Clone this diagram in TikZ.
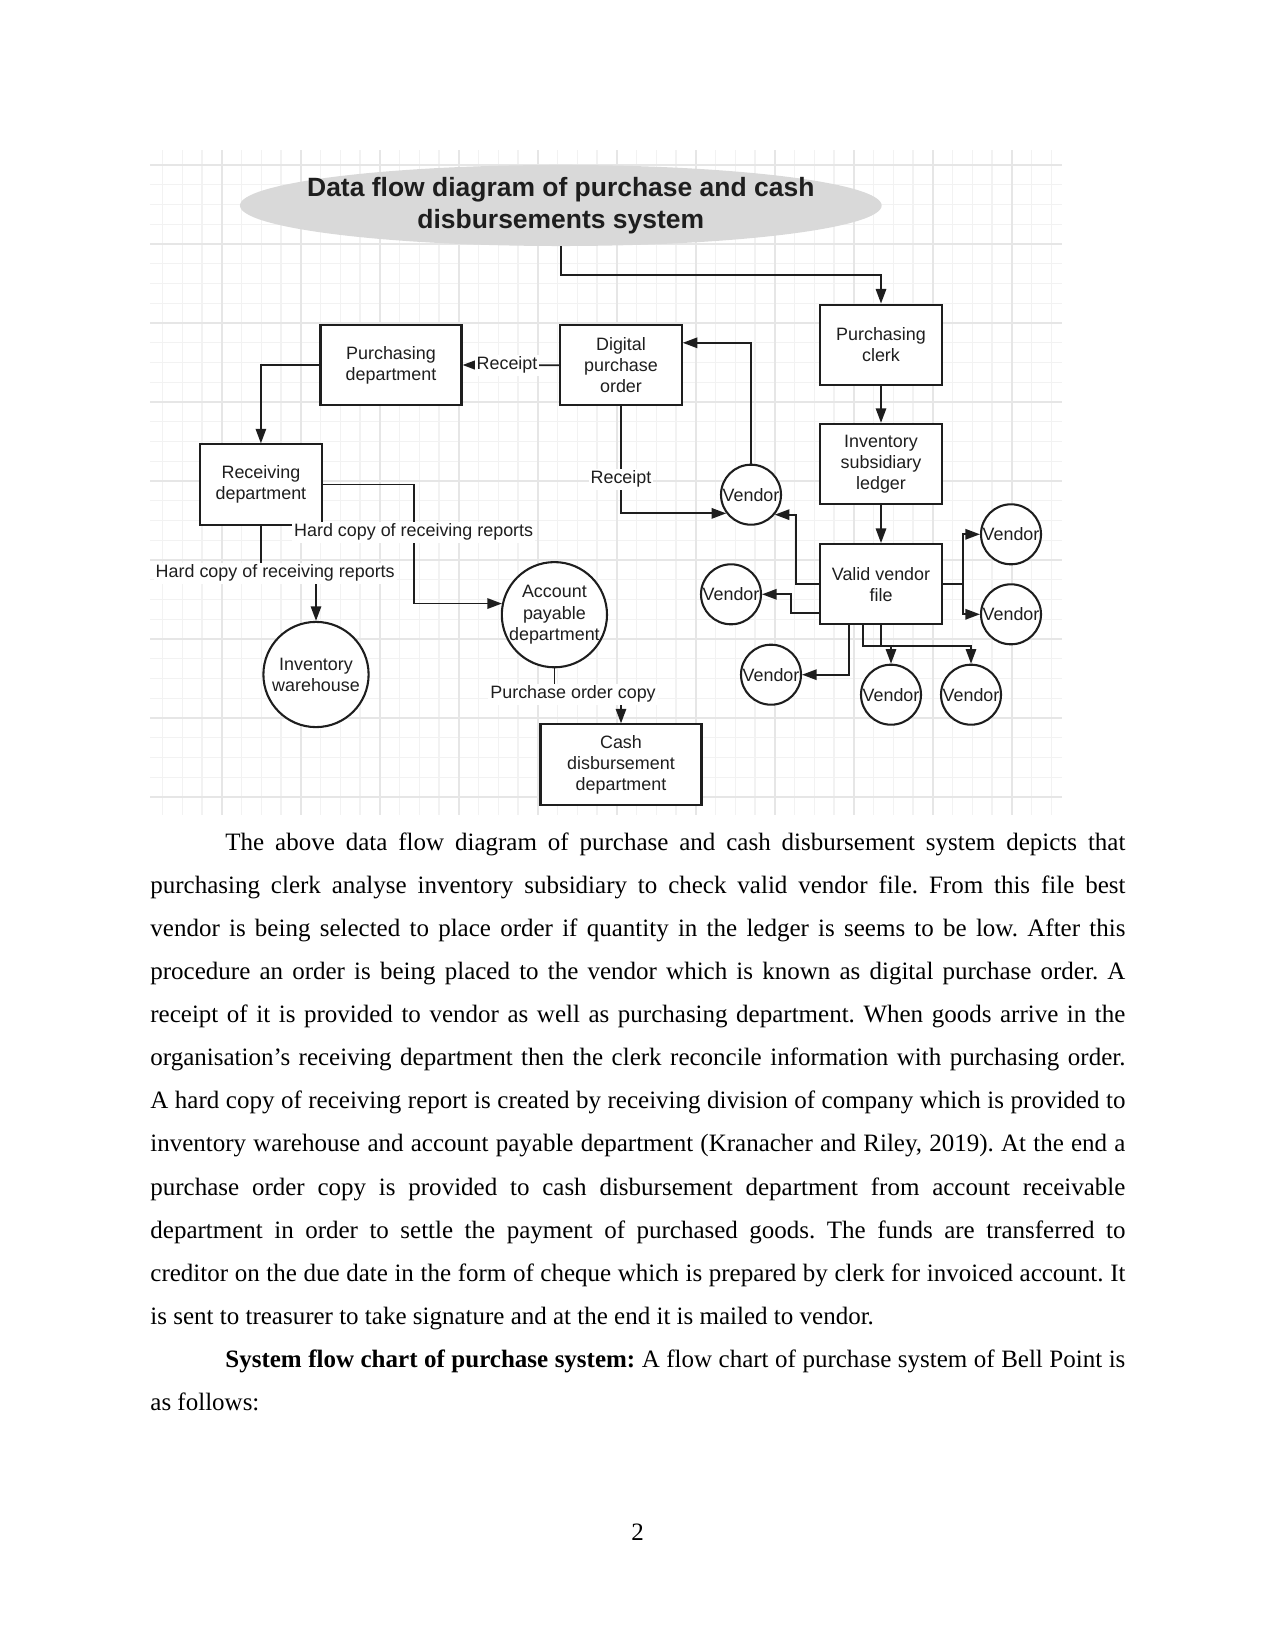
\documentclass[tikz,border=0pt]{standalone}
\usepackage{fontspec}
\setmainfont{Liberation Serif}
\newfontfamily\dfdfont{Liberation Sans}
\usetikzlibrary{arrows.meta,calc,shapes.geometric}
\definecolor{Cloud}{HTML}{D9D9D9}
\definecolor{GridLight}{HTML}{F2F2F2}
\definecolor{GridDark}{HTML}{E6E6E6}
\definecolor{Ink}{HTML}{1E1E1E}

\begin{document}
\frenchspacing
\begin{tikzpicture}[x=.48pt,y=-.48pt,
dfdtext/.style={font=\dfdfont\fontsize{8.6}{10.1}\selectfont,align=center,text=Ink},
heading/.style={ellipse,fill=Cloud,minimum width=308pt,minimum height=38.9pt,inner sep=0pt},
box/.style={draw=Ink,line width=1pt,fill=white,dfdtext,minimum width=#1,minimum height=38.5pt,inner sep=2pt},
box/.default=58.3pt,
vendor/.style={circle,draw=Ink,line width=1pt,fill=white,dfdtext,minimum size=28.8pt,inner sep=0pt},
store/.style={circle,draw=Ink,line width=1pt,fill=white,minimum size=50.5pt,inner sep=0pt},
flowlbl/.style={dfdtext,fill=white,inner sep=1pt},
arrow/.style={-{Triangle[length=7pt,width=5pt]},line width=.85pt,draw=Ink},
gridln/.style={draw=GridLight,line width=.6pt},
gridmaj/.style={draw=GridDark,line width=.8pt}]
\useasboundingbox (0,0) rectangle (1275,1650);
\foreach \gx in {0,...,45} \draw[gridln] ({162.5+19.75*\gx},150) -- ++(0,665);
\foreach \gy in {0,...,32} \draw[gridln] (150,{165+19.75*\gy}) -- ++(912,0);
\foreach \gx in {0,...,10} \draw[gridmaj] ({221.75+79*\gx},150) -- ++(0,665);
\foreach \gy in {0,...,8} \draw[gridmaj] (150,{165+79*\gy}) -- ++(912,0);

\node[heading,label={[font=\dfdfont\bfseries\fontsize{12.7}{15.4}\selectfont,align=center,text=Ink]center:Data flow diagram of purchase and cash\\disbursements system}](title) at (560.8,205.5){};
\node[box=67.7pt](pd) at (391,365){Purchasing\\department};
\node[box](dpo) at (621,365.3){Digital\\purchase\\order};
\node[box](clerk) at (881,344.7){Purchasing\\clerk};
\node[box](ledger) at (881,464){Inventory\\subsidiary\\ledger};
\node[box](vvf) at (881,584.2){Valid vendor\\file};
\node[box](rec) at (260.9,484.5){Receiving\\department};
\node[box=77.3pt](cash) at (621,764.5){Cash\\disbursement\\department};
\node[store,label={[dfdtext]center:Inventory\\warehouse}](wh) at (316,674.5){};
\node[store,label={[dfdtext]center:Account\\payable\\department}](ap) at (554.4,614.7){};
\node[vendor](vA) at (751,494.7){Vendor};
\node[vendor](vB) at (731,594.3){Vendor};
\node[vendor](vC) at (771,674.7){Vendor};
\node[vendor](vD) at (891,694.7){Vendor};
\node[vendor](vE) at (971,694.7){Vendor};
\node[vendor](vF) at (1011,534.3){Vendor};
\node[vendor](vG) at (1011,614.3){Vendor};

\draw[arrow](title.south) -- ++(0,28.5) -| (clerk.north);
\draw[arrow](clerk)--(ledger);\draw[arrow](ledger)--(vvf);
\draw[arrow](dpo.west) -- (pd.east) node[flowlbl,pos=.54]{Receipt};
\draw[arrow](pd.west) -| (rec.north);
\draw[arrow](dpo.south) |- (vA.217) node[flowlbl,pos=.34]{Receipt};
\draw[arrow](vA.north) |- (dpo.20);
\draw[arrow](vvf.west) -- ++(-23,0) |- (vA.-40);
\draw[arrow](vvf.205) -- ++(-28.6,0) |- (vB.east);
\draw[arrow]($(vvf.south)+(-31.7,0)$) |- (vC.east);
\draw[arrow](vvf.south) -- ++(0,21) -| (vD.north);
\draw[arrow]($(vvf.south)+(-18,0)$) -- ++(0,21) -| (vE.north);
\draw[arrow](vvf.east) -- ++(20,0) |- (vF.west);
\draw[arrow](vvf.east) -- ++(20,0) |- (vG.west);
\draw[arrow](rec.south) -- ++(0,47.5) -| (wh.north) node[flowlbl,pos=.13]{Hard copy of receiving reports};
\draw[arrow](rec.east) -- ++(91,0) |- (ap.168) node[flowlbl,pos=.2]{Hard copy of receiving reports};
\draw[arrow](ap.south) -- ++(0,26) -| (cash.north) node[flowlbl,pos=.14]{Purchase order copy};

\node[anchor=base west,text width=468pt,align=justify,inner sep=0pt,font=\fontsize{12}{20.7}\selectfont](body) at (150,850){\hspace*{36pt}The above data flow diagram of purchase and cash disbursement system depicts that\linebreak
purchasing clerk analyse inventory subsidiary to check valid vendor file. From this file best\linebreak
vendor is being selected to place order if quantity in the ledger is seems to be low. After this\linebreak
procedure an order is being placed to the vendor which is known as digital purchase order. A\linebreak
receipt of it is provided to vendor as well as purchasing department. When goods arrive in the\linebreak
organisation's receiving department then the clerk reconcile information with purchasing order.\linebreak
A hard copy of receiving report is created by receiving division of company which is provided to\linebreak
inventory warehouse and account payable department (Kranacher and Riley, 2019). At the end a\linebreak
purchase order copy is provided to cash disbursement department from account receivable\linebreak
department in order to settle the payment of purchased goods. The funds are transferred to\linebreak
creditor on the due date in the form of cheque which is prepared by clerk for invoiced account. It\linebreak
is sent to treasurer to take signature and at the end it is mailed to vendor.\par
\hspace*{36pt}\textbf{System flow chart of purchase system:} A flow chart of purchase system of Bell Point is\linebreak
as follows:};
\node[anchor=base,font=\fontsize{12}{14}\selectfont](pagenum) at (637.5,1540){2};
\end{tikzpicture}
\end{document}
